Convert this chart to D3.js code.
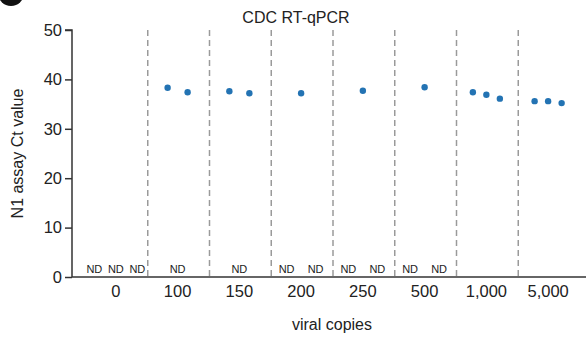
<!DOCTYPE html>
<html>
<head>
<meta charset="utf-8">
<script src="https://cdn.jsdelivr.net/npm/d3@7"></script>
<style>
body { margin: 0; background: #fff; }
text { font-family: "Liberation Sans", Arial, sans-serif; }
</style>
</head>
<body>
<div id="chart-area"></div>
<script>
// data (null = not detected)
var copies = ["0", "100", "150", "200", "250", "500", "1,000", "5,000"];
var ct0 = [null, 38.3, 37.6, 37.2, 37.7, 38.4, 37.4, 35.6];
var ct1 = [null, 37.4, 37.2, null, null, null, 36.9, 35.6];
var ct2 = [null, null, null, null, null, null, 36.1, 35.2];
var yTicks = [0, 10, 20, 30, 40, 50];

var width = 586, height = 341;
var svg = d3.select("#chart-area").append("svg")
    .attr("width", width)
    .attr("height", height);

var x = d3.scaleBand().domain(copies).range([85, 579]).padding(0);
var y = d3.scaleLinear().domain([0, 50]).range([277, 30]);
var axisLeft = 72;

var groups = copies.map(function(c, i) {
    var vals = [ct0[i], ct1[i], ct2[i]];
    return {
        copies: c,
        hits: vals.filter(function(v) { return v != null; }),
        nd: vals.filter(function(v) { return v == null; }).length
    };
});

// panel letter blob, cut off at top-left
svg.append("circle")
    .attr("cx", 11).attr("cy", -7).attr("r", 13)
    .attr("fill", "#111");

// title
svg.append("text")
    .attr("x", 296).attr("y", 23)
    .attr("text-anchor", "middle")
    .attr("font-size", "16px")
    .attr("fill", "#222")
    .text("CDC RT-qPCR");

// dashed separators
svg.selectAll(".sep")
    .data(copies.slice(1))
    .enter().append("line")
    .attr("class", "sep")
    .attr("x1", function(d) { return x(d) + 1; })
    .attr("x2", function(d) { return x(d) + 1; })
    .attr("y1", y(50))
    .attr("y2", y(0))
    .attr("stroke", "#9a9a9a")
    .attr("stroke-width", 1.5)
    .attr("stroke-dasharray", "6,4");

// y axis
var yAxis = d3.axisLeft(y).tickValues(yTicks).tickSize(7).tickPadding(3);
var gy = svg.append("g")
    .attr("transform", "translate(" + axisLeft + ",0)")
    .call(yAxis);
gy.select(".domain").attr("d", "M-7," + y(50) + "H0V" + y(0)).attr("stroke", "#333").attr("stroke-width", 1.5);
gy.selectAll(".tick line").attr("stroke", "#333").attr("stroke-width", 1.5);
gy.selectAll(".tick text")
    .attr("font-size", "16.5px")
    .attr("fill", "#222")
    .style("font-family", "'Liberation Sans', Arial, sans-serif");

// x axis (labels only, no ticks)
var xAxis = d3.axisBottom(x).tickSize(0).tickPadding(8);
var gx = svg.append("g")
    .attr("transform", "translate(0," + y(0) + ")")
    .call(xAxis);
gx.select(".domain").attr("d", "M" + axisLeft + ",0H" + width).attr("stroke", "#333").attr("stroke-width", 1.5);
gx.selectAll(".tick text")
    .attr("font-size", "16.5px")
    .attr("fill", "#222")
    .style("font-family", "'Liberation Sans', Arial, sans-serif");

// axis titles
svg.append("text")
    .attr("transform", "rotate(-90)")
    .attr("x", -(y(0) + y(50)) / 2)
    .attr("y", 23)
    .attr("text-anchor", "middle")
    .attr("font-size", "16px")
    .attr("fill", "#222")
    .text("N1 assay Ct value");

svg.append("text")
    .attr("x", 332).attr("y", 330)
    .attr("text-anchor", "middle")
    .attr("font-size", "16px")
    .attr("fill", "#222")
    .text("viral copies");

// points and ND labels per group
var dotGap = { 1: 0, 2: 20, 3: 13.5 };
var ndGap = { 1: 0, 2: 29, 3: 21.5 };

groups.forEach(function(gr) {
    var cx = x(gr.copies) + x.bandwidth() / 2;
    var n = gr.hits.length;
    gr.hits.forEach(function(v, j) {
        svg.append("circle")
            .attr("cx", cx + (j - (n - 1) / 2) * dotGap[n])
            .attr("cy", y(v))
            .attr("r", 3.2)
            .attr("fill", "#2373b3");
    });
    for (var k = 0; k < gr.nd; k++) {
        svg.append("text")
            .attr("x", cx + (k - (gr.nd - 1) / 2) * ndGap[gr.nd])
            .attr("y", y(0) - 4)
            .attr("text-anchor", "middle")
            .attr("font-size", "11px")
            .attr("fill", "#222")
            .text("ND");
    }
});
</script>
</body>
</html>
